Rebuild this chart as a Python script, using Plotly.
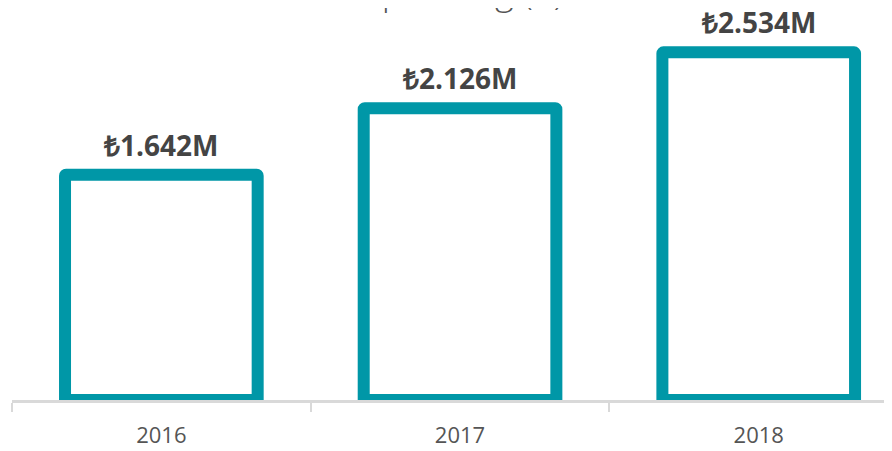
import plotly.graph_objects as go

years = ["2016", "2017", "2018"]
spending_m = [1.642, 2.126, 2.534]
value_labels = ["₺1.642M", "₺2.126M", "₺2.534M"]
title_text = "Spending (₺)"

TEAL = "#0097A7"

fig = go.Figure()
fig.add_trace(go.Bar(
    x=years,
    y=spending_m,
    width=0.645,
    marker=dict(color="white", line=dict(color=TEAL, width=12), cornerradius=1),
    hoverinfo="skip",
))

for i, (v, lab) in enumerate(zip(spending_m, value_labels)):
    fig.add_annotation(
        x=i, y=v, xref="x", yref="y", text=lab, showarrow=False,
        yanchor="middle", yshift=30,
        font=dict(family="Open Sans", size=28, color="#444444", weight="bold"),
    )

fig.add_annotation(
    x=(357 - 12) / 880, y=1, xref="paper", yref="paper", xanchor="left", yanchor="bottom",
    yshift=3, text=title_text, showarrow=False,
    font=dict(family="Open Sans", size=36, color="#555555", weight=300),
)

fig.update_layout(
    width=892, height=451,
    margin=dict(l=4, r=0, t=12, b=59),
    paper_bgcolor="white", plot_bgcolor="white",
    showlegend=False,
    xaxis=dict(
        type="category", range=[-0.5, 2.473],
        showline=True, linecolor="#d9d9d9", linewidth=3,
        ticks="outside", tickson="boundaries", ticklen=9, tickwidth=2, tickcolor="#d9d9d9",
        ticklabelstandoff=14,
        tickfont=dict(family="Open Sans", size=22, color="#555555"),
        showgrid=False, zeroline=False,
    ),
    yaxis=dict(
        range=[0, 380 / 137.2], visible=False, showgrid=False, zeroline=False,
    ),
)

fig.write_html("out.html")
